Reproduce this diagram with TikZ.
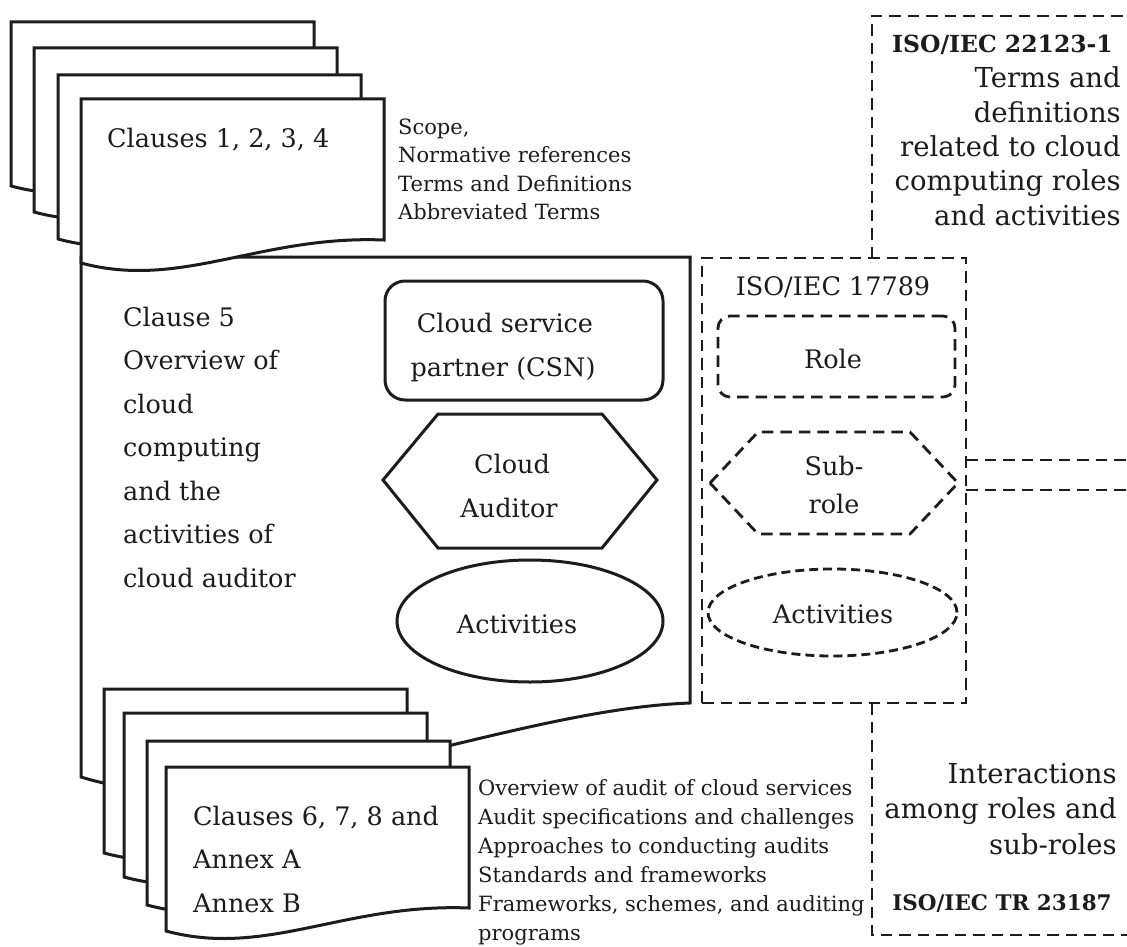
\documentclass[tikz,border=0pt]{standalone}
\usepackage{fontspec}
\setmainfont{DejaVu Serif}
\usetikzlibrary{shapes.geometric}
\definecolor{ink}{HTML}{1C1C1C}
\tikzset{
  solidline/.style={draw=ink, line width=3pt, line join=miter},
  dashline/.style={draw=ink, line width=2.8pt, dash pattern=on 11.5pt off 7pt},
  dashfine/.style={draw=ink, line width=2.8pt, dash pattern=on 9pt off 5pt},
  bigtxt/.style={font=\fontsize{25.5}{30}\selectfont, inner sep=0pt, text=ink},
  smalltxt/.style={font=\fontsize{21}{25}\selectfont, inner sep=0pt, text=ink},
  sidetxt/.style={font=\fontsize{27.5}{32}\selectfont, inner sep=0pt, text=ink},
  isobold/.style={font=\bfseries\fontsize{23.5}{28}\selectfont, inner sep=0pt, text=ink},
}
\newcommand\docsheet[2]{\draw[solidline, fill=white, shift={(#1,#2)}] (0,0) -- (303,0) -- (303,141) .. controls (179,136) and (100,191) .. (0,164) -- cycle;}
\begin{document}
\begin{tikzpicture}[x=1pt,y=-1pt]
\useasboundingbox (0,0) rectangle (1127,947);
\fill[white] (0,0) rectangle (1127,947);

% Clause 5 page
\draw[solidline, fill=white] (81,257) -- (690,257) -- (690,703) .. controls (500,710) and (250,830) .. (81,777) -- cycle;

% top stack
\docsheet{11}{22}
\docsheet{34}{48}
\docsheet{58}{75}
\docsheet{81}{99}

% bottom stack
\docsheet{104}{689}
\docsheet{124}{713}
\docsheet{147}{741}
\docsheet{166}{767}

% texts on sheets
\node[bigtxt, anchor=base west] (cl14) at (107,148) {Clauses 1, 2, 3, 4};
\foreach \t [count=\i] in {{Clauses 6, 7, 8 and}, Annex A, Annex B}
  \node[bigtxt, anchor=base west] (cl68\i) at (193, {825+43.5*(\i-1)}) {\t};
\foreach \t [count=\i] in {Clause 5, Overview of, cloud, computing, and the, activities of, cloud auditor}
  \node[bigtxt, anchor=base west] (c5l\i) at (123, {326+43.5*(\i-1)}) {\t};

% side notes
\foreach \t [count=\i] in {{Scope,}, Normative references, Terms and Definitions, Abbreviated Terms}
  \node[smalltxt, anchor=base west] (top\i) at (398, {135+28*(\i-1)}) {\t};
\foreach \t [count=\i] in {Overview of audit of cloud services, Audit specifications and challenges, Approaches to conducting audits, Standards and frameworks, {Frameworks, schemes, and auditing}, programs}
  \node[smalltxt, anchor=base west] (bot\i) at (478, {795+29*(\i-1)}) {\t};

% shapes inside clause 5
\node[solidline, rounded corners=20pt, minimum width=278pt, minimum height=119pt, inner sep=0pt] (csn) at (524,340.5) {};
\node[bigtxt, anchor=base] (csn1) at (505,332) {Cloud service};
\node[bigtxt, anchor=base] (csn2) at (503,376) {partner (CSN)};
\draw[solidline] (383,480) -- (438,414) -- (602,414) -- (657,480) -- (602,548) -- (438,548) -- cycle;
\node[bigtxt, anchor=base] (aud1) at (512,473) {Cloud};
\node[bigtxt, anchor=base] (aud2) at (509,517) {Auditor};
\node[solidline, ellipse, minimum width=266pt, minimum height=122pt, inner sep=0pt] (act) at (530,621) {};
\node[bigtxt, anchor=base] (acttxt) at (517,633) {Activities};

% ISO/IEC 17789 box
\node[dashline, minimum width=264pt, minimum height=445pt, inner sep=0pt] (iso17789) at (834,480.5) {};
\node[bigtxt, anchor=base] (iso17789t) at (833,295) {ISO/IEC 17789};
\node[dashline, rounded corners=12pt, minimum width=237pt, minimum height=81pt, inner sep=0pt] (role) at (836.5,356.5) {};
\node[bigtxt, anchor=base] (roletxt) at (833,368) {Role};
\draw[dashline] (710,483) -- (758,432) -- (910,432) -- (958,483) -- (910,534) -- (758,534) -- cycle;
\node[bigtxt, anchor=base] (sub1) at (834,475) {Sub-};
\node[bigtxt, anchor=base] (sub2) at (834,513) {role};
\node[dashfine, ellipse, minimum width=249pt, minimum height=87pt, inner sep=0pt] (act2) at (832.5,612.5) {};
\node[bigtxt, anchor=base] (act2txt) at (833,623) {Activities};

% frames on the right
\draw[dashline] (872,258) -- (872,16) -- (1135,16);
\draw[dashline] (872,703) -- (872,935) -- (1135,935);
\draw[dashline] (966,460) -- (1135,460);
\draw[dashline] (966,490) -- (1135,490);

\node[isobold, anchor=base east] (iso22123) at (1113,53) {ISO/IEC 22123-1};
\foreach \t [count=\i] in {Terms and, definitions, related to cloud, computing roles, and activities}
  \node[sidetxt, anchor=base east] (tr\i) at (1121, {88+34.3*(\i-1)}) {\t};
\foreach \t [count=\i] in {Interactions, among roles and, sub-roles}
  \node[sidetxt, anchor=base east] (br\i) at (1117, {783+35.5*(\i-1)}) {\t};
\node[isobold, font=\bfseries\fontsize{21.5}{26}\selectfont, anchor=base] (iso23187) at (1002,910) {ISO/IEC TR 23187};
\end{tikzpicture}
\end{document}
